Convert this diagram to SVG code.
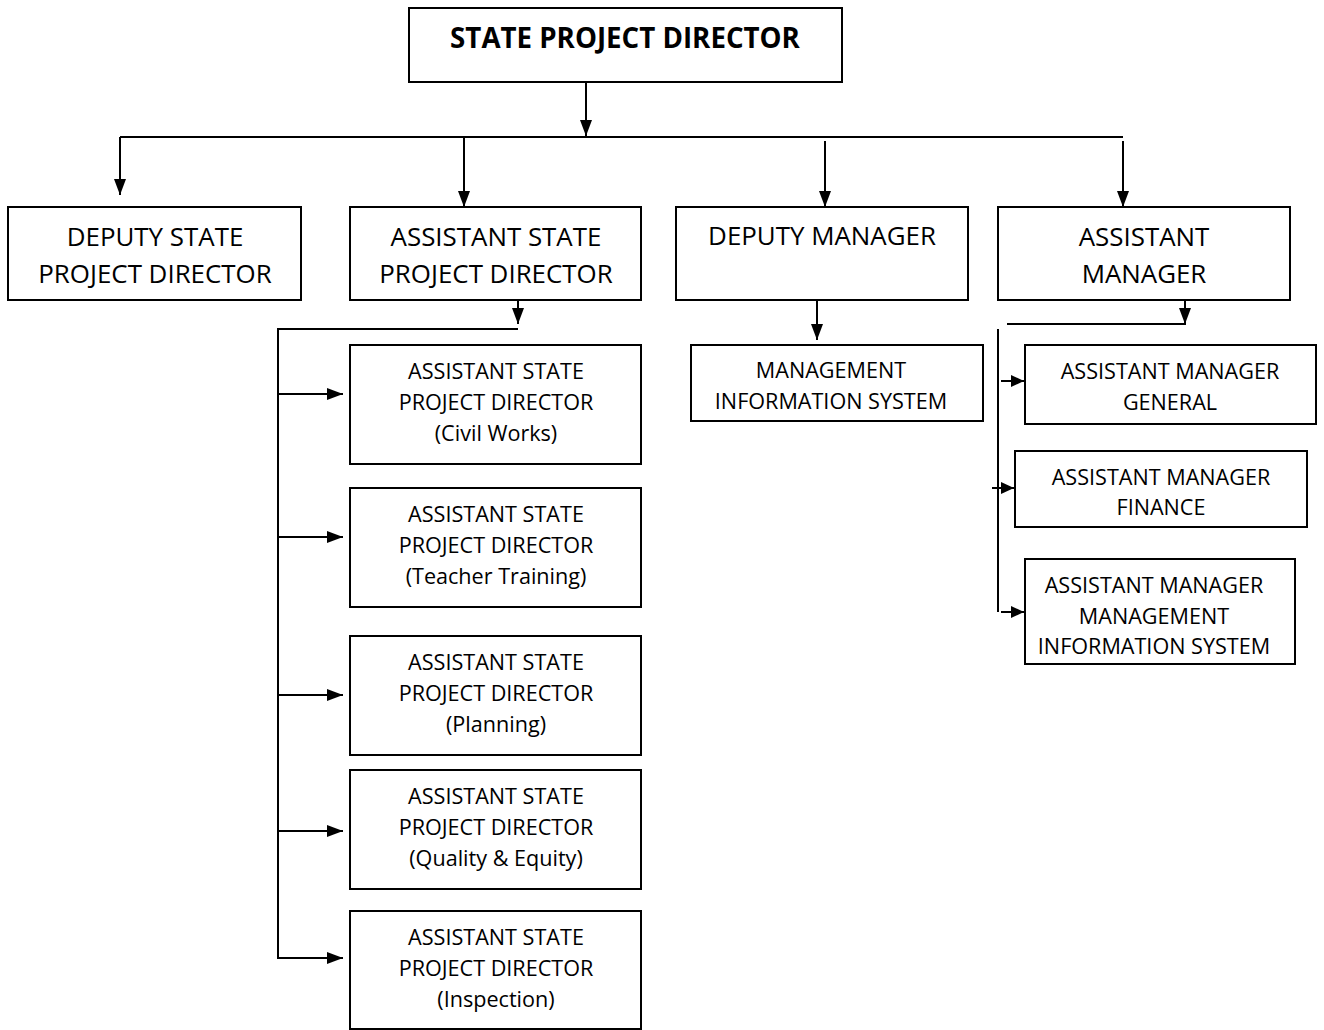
<svg xmlns="http://www.w3.org/2000/svg" width="1324" height="1030" viewBox="0 0 1324 1030">
<style>
.box{fill:#fff;stroke:#000;stroke-width:2}
.t{font-family:"Open Sans","Liberation Sans",sans-serif;fill:#000;text-anchor:middle}
.title{font-size:27.7px;font-weight:bold}
.l2{font-size:25.9px}
.l3{font-size:21.6px}
.c{fill:none;stroke:#000;stroke-width:2}
</style>
<defs>
<marker id="ah" markerUnits="userSpaceOnUse" markerWidth="16" markerHeight="12" refX="16" refY="6" orient="auto">
<path d="M0,0 L16,6 L0,12 Z" fill="#000"/>
</marker>
<marker id="as" markerUnits="userSpaceOnUse" markerWidth="13" markerHeight="12" refX="13" refY="6" orient="auto">
<path d="M0,0 L13,6 L0,12 Z" fill="#000"/>
</marker>
</defs>
<g id="connectors">
<path class="c" d="M586,82 V136" marker-end="url(#ah)"/>
<path class="c" d="M120,137 H1123"/>
<path class="c" d="M120,137 V195" marker-end="url(#ah)"/>
<path class="c" d="M464,137 V207" marker-end="url(#ah)"/>
<path class="c" d="M825,141 V207" marker-end="url(#ah)"/>
<path class="c" d="M1123,141 V207" marker-end="url(#ah)"/>
<path class="c" d="M518,300 V324" marker-end="url(#ah)"/>
<path class="c" d="M278,329 H518"/>
<path class="c" d="M278,328 V959"/>
<path class="c" d="M278,394 H343" marker-end="url(#ah)"/>
<path class="c" d="M278,537 H343" marker-end="url(#ah)"/>
<path class="c" d="M278,695 H343" marker-end="url(#ah)"/>
<path class="c" d="M278,831 H343" marker-end="url(#ah)"/>
<path class="c" d="M278,958 H343" marker-end="url(#ah)"/>
<path class="c" d="M817,296 V340" marker-end="url(#ah)"/>
<path class="c" d="M1185,300 V324" marker-end="url(#ah)"/>
<path class="c" d="M1007,324 H1186"/>
<path class="c" d="M998,329 V612"/>
<path class="c" d="M1001,381 H1024" marker-end="url(#as)"/>
<path class="c" d="M992,488 H1014" marker-end="url(#as)"/>
<path class="c" d="M1001,612 H1024" marker-end="url(#as)"/>
</g>
<g id="n-spd">
<rect class="box" x="409" y="8" width="433" height="74"/>
<text class="t title" x="625" y="48">STATE PROJECT DIRECTOR</text>
</g>
<g id="n-dspd">
<rect class="box" x="8" y="207" width="293" height="93"/>
<text class="t l2" x="155" y="246">DEPUTY STATE</text>
<text class="t l2" x="155" y="283">PROJECT DIRECTOR</text>
</g>
<g id="n-aspd">
<rect class="box" x="350" y="207" width="291" height="93"/>
<text class="t l2" x="496" y="246">ASSISTANT STATE</text>
<text class="t l2" x="496" y="283">PROJECT DIRECTOR</text>
</g>
<g id="n-dm">
<rect class="box" x="676" y="207" width="292" height="93"/>
<text class="t l2" x="822" y="245">DEPUTY MANAGER</text>
</g>
<g id="n-am">
<rect class="box" x="998" y="207" width="292" height="93"/>
<text class="t l2" x="1144" y="246">ASSISTANT</text>
<text class="t l2" x="1144" y="283">MANAGER</text>
</g>
<g id="n-civil">
<rect class="box" x="350" y="345" width="291" height="119"/>
<text class="t l3" x="496" y="379">ASSISTANT STATE</text>
<text class="t l3" x="496" y="410">PROJECT DIRECTOR</text>
<text class="t l3" x="496" y="441">(Civil Works)</text>
</g>
<g id="n-teacher">
<rect class="box" x="350" y="488" width="291" height="119"/>
<text class="t l3" x="496" y="522">ASSISTANT STATE</text>
<text class="t l3" x="496" y="553">PROJECT DIRECTOR</text>
<text class="t l3" x="496" y="584">(Teacher Training)</text>
</g>
<g id="n-planning">
<rect class="box" x="350" y="636" width="291" height="119"/>
<text class="t l3" x="496" y="670">ASSISTANT STATE</text>
<text class="t l3" x="496" y="701">PROJECT DIRECTOR</text>
<text class="t l3" x="496" y="732">(Planning)</text>
</g>
<g id="n-quality">
<rect class="box" x="350" y="770" width="291" height="119"/>
<text class="t l3" x="496" y="804">ASSISTANT STATE</text>
<text class="t l3" x="496" y="835">PROJECT DIRECTOR</text>
<text class="t l3" x="496" y="866">(Quality &amp; Equity)</text>
</g>
<g id="n-inspection">
<rect class="box" x="350" y="911" width="291" height="118"/>
<text class="t l3" x="496" y="945">ASSISTANT STATE</text>
<text class="t l3" x="496" y="976">PROJECT DIRECTOR</text>
<text class="t l3" x="496" y="1007">(Inspection)</text>
</g>
<g id="n-mis">
<rect class="box" x="691" y="345" width="292" height="76"/>
<text class="t l3" x="831" y="378">MANAGEMENT</text>
<text class="t l3" x="831" y="409">INFORMATION SYSTEM</text>
</g>
<g id="n-amg">
<rect class="box" x="1025" y="345" width="291" height="79"/>
<text class="t l3" x="1170" y="379">ASSISTANT MANAGER</text>
<text class="t l3" x="1170" y="410">GENERAL</text>
</g>
<g id="n-amf">
<rect class="box" x="1015" y="451" width="292" height="76"/>
<text class="t l3" x="1161" y="485">ASSISTANT MANAGER</text>
<text class="t l3" x="1161" y="515">FINANCE</text>
</g>
<g id="n-ammis">
<rect class="box" x="1025" y="559" width="270" height="105"/>
<text class="t l3" x="1154" y="593">ASSISTANT MANAGER</text>
<text class="t l3" x="1154" y="624">MANAGEMENT</text>
<text class="t l3" x="1154" y="654">INFORMATION SYSTEM</text>
</g>
</svg>
